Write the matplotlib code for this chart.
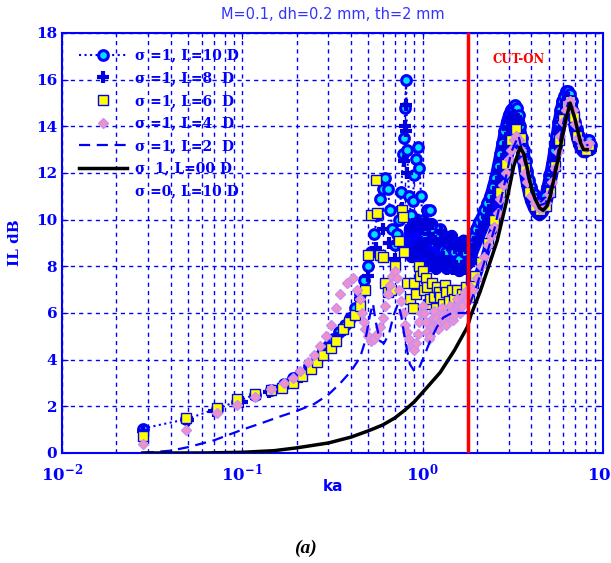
import matplotlib
matplotlib.use("Agg")
import matplotlib.pyplot as plt
from matplotlib.lines import Line2D

# ---------------- data ----------------
ka_L10 = [0.028, 0.049, 0.072, 0.093, 0.117, 0.145, 0.17, 0.19, 0.21, 0.235, 0.26, 0.28, 0.30, 0.32,
          0.345, 0.37, 0.395, 0.42, 0.45, 0.47, 0.50, 0.52, 0.54, 0.56, 0.58, 0.60, 0.62, 0.64, 0.66,
          0.68, 0.70, 0.72, 0.74, 0.76, 0.78, 0.79, 0.80, 0.81, 0.82, 0.84, 0.86, 0.88, 0.90, 0.92,
          0.94, 0.96, 0.98, 1.00, 1.03, 1.06, 1.10, 1.13, 1.16, 1.20, 1.25, 1.30, 1.35, 1.40, 1.45,
          1.50, 1.55, 1.60, 1.65, 1.70, 1.75, 1.80,
          1.86, 1.92, 1.98, 2.05, 2.12, 2.2, 2.28, 2.36, 2.44, 2.52, 2.6, 2.68, 2.76, 2.84, 2.92, 3.0,
          3.08, 3.16, 3.24, 3.32, 3.4, 3.48, 3.56, 3.64, 3.72, 3.8, 3.9, 4.0, 4.15, 4.3, 4.45, 4.6,
          4.75, 4.9, 5.05, 5.2, 5.35, 5.5, 5.65, 5.8, 5.95, 6.1, 6.25, 6.4, 6.55, 6.7, 6.85, 7.0,
          7.2, 7.4, 7.6, 7.8, 8.0, 8.2, 8.4, 8.55]
il_L10 = [1.05, 1.45, 1.9, 2.2, 2.5, 2.7, 2.95, 3.2, 3.4, 3.75, 4.1, 4.4, 4.6, 4.9,
          5.2, 5.5, 5.8, 6.2, 6.8, 7.4, 8.0, 8.6, 9.4, 10.2, 10.9, 11.3, 11.8, 11.3, 10.4,
          9.6, 8.9, 9.4, 10.0, 11.2, 12.8, 13.5, 14.8, 16.0, 13.0, 11.0, 10.2, 10.8, 11.9, 12.6,
          13.1, 12.2, 11.0, 10.0, 9.4, 10.4, 10.4, 9.6, 9.0, 9.3, 9.6, 8.7, 8.6, 9.2, 8.8,
          8.6, 8.9, 8.3, 8.9, 8.6, 8.1, 8.8,
          8.9, 9.3, 9.6, 9.9, 10.1, 10.4, 10.7, 11.0, 11.4, 11.8, 12.3, 12.8, 13.3, 13.8, 14.2, 14.5,
          14.7, 14.8, 14.9, 14.8, 14.5, 14.0, 13.5, 13.0, 12.5, 12.1, 11.7, 11.4, 11.1, 10.9, 10.8, 10.8,
          11.0, 11.4, 11.9, 12.4, 13.0, 13.6, 14.2, 14.7, 15.1, 15.3, 15.5, 15.5, 15.4, 15.1, 14.6, 14.2,
          13.9, 13.6, 13.4, 13.3, 13.3, 13.4, 13.4, 13.2]

ka_L8 = [0.028, 0.05, 0.07, 0.1, 0.14, 0.2, 0.25, 0.3, 0.35, 0.4, 0.45, 0.5, 0.55, 0.6, 0.65, 0.7,
         0.74, 0.77, 0.79, 0.80, 0.805, 0.81, 0.82,
         0.85, 0.87, 0.89, 0.91, 0.93, 0.95, 0.97, 0.99, 1.01, 1.03, 1.05, 1.07, 1.09, 1.11, 1.13,
         1.15, 1.17, 1.19, 1.21, 1.24, 1.27, 1.30, 1.33, 1.36, 1.39, 1.42, 1.45, 1.48, 1.51, 1.54,
         1.57, 1.60, 1.63, 1.66, 1.69, 1.72, 1.75, 1.78, 1.81, 1.84,
         1.88, 1.95, 2.02, 2.1, 2.18, 2.26, 2.34, 2.42, 2.5, 2.58, 2.66, 2.74, 2.82, 2.9, 2.98, 3.06,
         3.14, 3.22, 3.3, 3.38, 3.46, 3.54, 3.62, 3.7, 3.8, 3.9, 4.0, 4.15, 4.3, 4.45, 4.6, 4.75,
         4.9, 5.05, 5.2, 5.35, 5.5, 5.65, 5.8, 5.95, 6.1, 6.25, 6.4, 6.55, 6.7, 6.85, 7.0, 7.2,
         7.4, 7.6, 7.8, 8.0, 8.2, 8.4, 8.55]
il_L8 = [0.95, 1.4, 1.8, 2.2, 2.6, 3.1, 3.8, 4.5, 5.1, 5.8, 6.6, 7.6, 8.8, 9.6, 9.0, 8.3,
         9.0, 10.5, 12.5, 14.0, 14.9, 13.8, 12.0,
         9.6, 8.4, 9.8, 8.8, 10.0, 9.0, 8.2, 9.6, 8.6, 9.9, 9.0, 8.0, 9.4, 8.5, 9.8,
         8.3, 9.1, 7.9, 9.0, 8.1, 9.5, 8.4, 9.2, 7.9, 8.9, 8.2, 9.3, 7.9, 8.8, 8.0,
         9.0, 7.8, 8.7, 8.0, 9.1, 7.9, 8.8, 8.1, 8.9, 8.2,
         8.6, 8.9, 9.2, 9.5, 9.8, 10.1, 10.4, 10.8, 11.2, 11.6, 12.1, 12.6, 13.1, 13.5, 13.9, 14.2,
         14.4, 14.5, 14.4, 14.1, 13.6, 13.0, 12.5, 12.0, 11.5, 11.1, 10.8, 10.5, 10.3, 10.2, 10.3, 10.5,
         10.9, 11.4, 11.9, 12.5, 13.1, 13.7, 14.2, 14.6, 14.9, 15.1, 15.2, 15.1, 14.8, 14.3, 13.9, 13.5,
         13.2, 13.0, 12.9, 12.9, 13.0, 13.1, 13.0]

ka_L6 = [0.028, 0.049, 0.072, 0.093, 0.117, 0.145, 0.165, 0.19, 0.215, 0.24, 0.26, 0.28, 0.31, 0.33,
         0.36, 0.39, 0.42, 0.45, 0.48, 0.50, 0.52, 0.55, 0.56, 0.58, 0.60, 0.62, 0.64, 0.67, 0.70,
         0.74, 0.77, 0.78, 0.79, 0.82, 0.85, 0.88, 0.90, 0.92, 0.95, 0.97, 1.00, 1.02, 1.04, 1.06,
         1.08, 1.10, 1.13, 1.15, 1.18, 1.20, 1.23, 1.25, 1.28, 1.30, 1.33, 1.35, 1.40, 1.45, 1.50,
         1.55, 1.60, 1.65, 1.70, 1.75, 1.80, 1.85, 1.90, 1.95, 2.1, 2.3, 2.5, 2.7, 2.9, 3.1, 3.3,
         3.5, 3.7, 3.9, 4.2, 4.5, 4.8, 5.1, 5.4, 5.7, 6.0, 6.3, 6.6, 6.9, 7.2, 7.6, 8.0, 8.4]
il_L6 = [0.75, 1.5, 1.95, 2.3, 2.55, 2.7, 2.8, 3.0, 3.3, 3.6, 3.9, 4.2, 4.5, 4.8,
         5.3, 5.6, 5.9, 6.3, 7.0, 8.5, 10.2, 11.7, 10.3, 8.5, 8.4, 7.3, 6.9, 7.0, 8.0,
         9.1, 10.4, 10.1, 8.6, 7.3, 6.6, 6.2, 7.3, 6.8, 8.0, 7.6, 7.8, 7.0, 7.5, 7.1,
         6.4, 6.6, 7.3, 6.7, 6.2, 7.1, 6.9, 6.7, 6.0, 6.4, 7.2, 6.9, 6.5, 7.0, 6.6,
         7.0, 6.4, 6.8, 6.6, 7.1, 6.7, 7.4, 7.3, 7.6, 8.2, 9.0, 10.0, 11.2, 12.4, 13.4, 13.9,
         13.5, 12.2, 11.2, 10.6, 10.4, 10.6, 11.2, 12.3, 13.4, 14.3, 14.9, 15.1, 14.4, 13.6, 13.2, 13.0, 13.2]

ka_L4 = [0.028, 0.049, 0.072, 0.093, 0.117, 0.145, 0.17, 0.19, 0.21, 0.23, 0.25, 0.27, 0.29, 0.31,
         0.33, 0.35, 0.38, 0.41, 0.43, 0.45, 0.46, 0.47, 0.48, 0.50, 0.52, 0.54, 0.56, 0.58, 0.60,
         0.62, 0.64, 0.66, 0.68, 0.70, 0.72, 0.74, 0.76, 0.78, 0.80, 0.82, 0.84, 0.86, 0.88, 0.90,
         0.92, 0.94, 0.96, 0.98, 1.00, 1.02, 1.04, 1.06, 1.08, 1.10, 1.12, 1.14, 1.16, 1.18, 1.20,
         1.22, 1.24, 1.26, 1.28, 1.30, 1.32, 1.35, 1.38, 1.41, 1.44, 1.47, 1.50, 1.53, 1.56, 1.59,
         1.62, 1.65, 1.68, 1.71, 1.74, 1.77, 1.80, 1.83,
         1.9, 2.0, 2.1, 2.2, 2.3, 2.4, 2.5, 2.6, 2.7, 2.8, 2.9, 3.0, 3.1, 3.2, 3.3, 3.4, 3.5, 3.6,
         3.7, 3.8, 4.0, 4.2, 4.4, 4.6, 4.8, 5.0, 5.2, 5.4, 5.6, 5.8, 6.0, 6.2, 6.4, 6.6, 6.8, 7.0,
         7.3, 7.6, 8.0, 8.4]
il_L4 = [0.4, 1.0, 1.7, 2.05, 2.4, 2.75, 3.0, 3.2, 3.5, 3.9, 4.2, 4.6, 5.0, 5.5,
         6.2, 6.8, 7.3, 7.5, 7.0, 6.6, 6.0, 5.6, 5.3, 5.0, 4.8, 4.9, 5.1, 5.4, 5.8,
         6.3, 6.8, 7.2, 7.6, 7.8, 7.5, 7.0, 6.5, 6.0, 5.5, 5.2, 4.9, 4.6, 4.5, 4.4,
         4.7, 5.1, 5.6, 6.0, 6.3, 6.0, 5.6, 5.2, 4.9, 5.0, 5.4, 5.8, 6.1, 5.8, 5.5,
         5.3, 5.6, 6.0, 6.2, 5.9, 5.6, 5.5, 5.9, 6.3, 6.0, 5.7, 5.9, 6.3, 6.6, 6.3,
         6.0, 6.3, 6.7, 6.9, 6.6, 6.5, 6.9, 7.1,
         7.0, 7.5, 8.0, 8.4, 8.9, 9.3, 9.7, 10.3, 10.9, 11.5, 12.0, 12.6, 13.0, 13.4, 13.6, 13.4, 13.0, 12.5,
         12.0, 11.6, 11.0, 10.7, 10.5, 10.5, 10.7, 11.1, 11.6, 12.2, 12.9, 13.6, 14.2, 14.7, 15.0, 15.1, 14.7, 14.1,
         13.5, 13.2, 13.1, 13.3]

ka_L2 = [0.028, 0.04, 0.05, 0.07, 0.1, 0.13, 0.16, 0.2, 0.25, 0.3, 0.35, 0.4, 0.45, 0.48, 0.51,
         0.53, 0.55, 0.58, 0.61, 0.65, 0.69, 0.73, 0.76, 0.80, 0.85, 0.90, 0.95, 1.0, 1.1, 1.2, 1.3,
         1.45, 1.6, 1.75, 1.85, 2.0, 2.2, 2.5, 2.8, 3.1, 3.4, 3.7, 4.0, 4.4, 4.8, 5.2, 5.6, 6.0,
         6.4, 6.8, 7.2, 7.7, 8.3]
il_L2 = [0.0, 0.1, 0.25, 0.55, 1.0, 1.3, 1.55, 1.8, 2.1, 2.5, 3.0, 3.5, 4.1, 4.8, 5.9,
         6.4, 5.6, 4.8, 4.7, 5.1, 5.9, 6.4, 5.9, 4.8, 3.8, 3.5, 3.6, 4.0, 4.8, 5.4, 5.8,
         6.0, 6.0, 6.0, 6.5, 7.2, 8.2, 9.6, 11.3, 12.9, 13.6, 12.4, 11.2, 10.6, 10.7, 11.5, 12.8, 14.1,
         15.0, 14.8, 13.8, 13.2, 13.2]

ka_L0 = [0.028, 0.06, 0.1, 0.15, 0.2, 0.3, 0.4, 0.5, 0.6, 0.7, 0.8, 0.9, 1.0, 1.25, 1.5, 1.77,
         1.85, 2.08, 2.3, 2.59, 2.94, 3.2, 3.47, 3.65, 3.8, 4.0, 4.2, 4.45, 4.66, 4.9, 5.1, 5.6,
         6.1, 6.57, 7.0, 7.5, 7.8, 8.17]
il_L0 = [0.0, 0.0, 0.03, 0.1, 0.22, 0.43, 0.68, 0.95, 1.2, 1.5, 1.85, 2.2, 2.6, 3.45, 4.4, 5.4,
         5.9, 6.9, 7.9, 9.1, 10.9, 12.3, 13.1, 12.8, 12.2, 11.4, 10.9, 10.5, 10.4, 10.6, 11.0, 12.5,
         14.0, 15.0, 14.3, 13.3, 13.0, 13.0]

ka_cuton = 1.79

legend_labels = ["\u03c3 =1, L=10 D", "\u03c3 =1, L=8  D", "\u03c3 =1, L=6  D", "\u03c3 =1, L=4  D",
                 "\u03c3 =1, L=2  D", "\u03c3  1, L=00 D", "\u03c3 =0, L=10 D"]

x_ticks = [0.01, 0.1, 1, 10]
x_ticklabels = ["$\\mathbf{10^{-2}}$", "$\\mathbf{10^{-1}}$", "$\\mathbf{10^{0}}$", "$\\mathbf{10^{1}}$"]
y_ticks = [0, 2, 4, 6, 8, 10, 12, 14, 16, 18]

# ---------------- figure ----------------
BLUE = "#0000ff"
SERIF = "DejaVu Serif"
plt.rcParams["mathtext.fontset"] = "custom"
plt.rcParams["mathtext.rm"] = "DejaVu Serif:bold"
plt.rcParams["mathtext.bf"] = "DejaVu Serif:bold"

fig = plt.figure(figsize=(6.11, 5.63), dpi=100)
ax = fig.add_axes([62 / 611, 110 / 563, 541 / 611, 420 / 563])
ax.set_xscale("log")
ax.set_xlim(0.01, 10)
ax.set_ylim(0, 18)

ax.grid(True, which="both", axis="x", color=BLUE, linestyle=(0, (3, 3)), linewidth=1.0)
ax.grid(True, which="major", axis="y", color=BLUE, linestyle=(0, (3, 3)), linewidth=1.0)
ax.set_axisbelow(True)

# dense overlapping markers of the sigma=1 series form a solid blue mass (drawn as thick traces)
def part(ka, il, lo):
    pts = [(k, v) for k, v in zip(ka, il) if k >= lo]
    return [p[0] for p in pts], [p[1] for p in pts]

for (ka_s, il_s, lo, lw) in [(ka_L8, il_L8, 0.84, 9), (ka_L10, il_L10, 1.84, 8), (ka_L4, il_L4, 1.86, 6)]:
    xs, ys = part(ka_s, il_s, lo)
    ax.plot(xs, ys, color=BLUE, linewidth=lw, solid_capstyle="round", solid_joinstyle="round", zorder=2)

l10, = ax.plot(ka_L10, il_L10, linestyle=":", color=BLUE, linewidth=1.5, marker="o", markersize=7,
               markerfacecolor="#00e0ff", markeredgecolor=BLUE, markeredgewidth=2.2, zorder=3)
l8, = ax.plot(ka_L8, il_L8, linestyle="none", marker="+", markersize=8, color="#0000dd",
              markeredgewidth=3, zorder=3)
l6, = ax.plot(ka_L6, il_L6, linestyle="none", marker="s", markersize=7, markerfacecolor="#ffff00",
              markeredgecolor=BLUE, markeredgewidth=1.0, zorder=4)
l4, = ax.plot(ka_L4, il_L4, linestyle="none", marker="D", markersize=5.5, markerfacecolor="#f090c8",
              markeredgecolor="#c890f0", markeredgewidth=1.0, zorder=5)
l2, = ax.plot(ka_L2, il_L2, linestyle=(0, (5, 3)), color=BLUE, linewidth=1.6, zorder=5)
l0, = ax.plot(ka_L0, il_L0, linestyle="-", color="black", linewidth=2.5, zorder=6)
ax.axvline(ka_cuton, color="#ff0000", linewidth=2.5, zorder=7)
ax.text(2.43, 16.85, "CUT-ON", color="#ff0000", fontsize=8.5, fontweight="bold",
        family=SERIF, va="center", ha="left", zorder=8)

blank = Line2D([], [], linestyle="none")
leg = ax.legend([l10, l8, l6, l4, l2, l0, blank], legend_labels, loc="upper left",
                frameon=False, handlelength=3.4, handletextpad=0.6, labelspacing=0.62,
                borderaxespad=0.0, bbox_to_anchor=(0.022, 0.976),
                prop={"family": SERIF, "weight": "bold", "size": 10})
for t in leg.get_texts():
    t.set_color(BLUE)

ax.set_xticks(x_ticks)
ax.set_xticklabels(x_ticklabels)
ax.set_yticks(y_ticks)
ax.set_yticklabels([str(v) for v in y_ticks])
for lab in ax.get_xticklabels() + ax.get_yticklabels():
    lab.set_color(BLUE)
    lab.set_fontfamily(SERIF)
    lab.set_fontweight("bold")
ax.tick_params(axis="x", labelsize=12, pad=7)
ax.tick_params(axis="y", labelsize=11)
ax.tick_params(which="both", direction="in", colors=BLUE, top=True, right=True, length=4)
ax.tick_params(which="minor", length=3)
for s in ax.spines.values():
    s.set_color(BLUE)
    s.set_linewidth(1.5)

ax.set_xlabel("ka", color=BLUE, fontweight="bold", fontsize=11, family="DejaVu Sans", labelpad=-4)
ax.set_ylabel("IL dB", color=BLUE, fontweight="bold", fontsize=11, family=SERIF, labelpad=10)
ax.set_title("M=0.1, dh=0.2 mm, th=2 mm", color="#3333ff", fontsize=10.5, family="DejaVu Sans", pad=10)

fig.text(305 / 611, 1 - 548 / 563, "(a)", ha="center", va="center", fontsize=14,
         fontweight="bold", fontstyle="italic", family="Liberation Serif", color="black")

fig.savefig("out.png", dpi=100)
